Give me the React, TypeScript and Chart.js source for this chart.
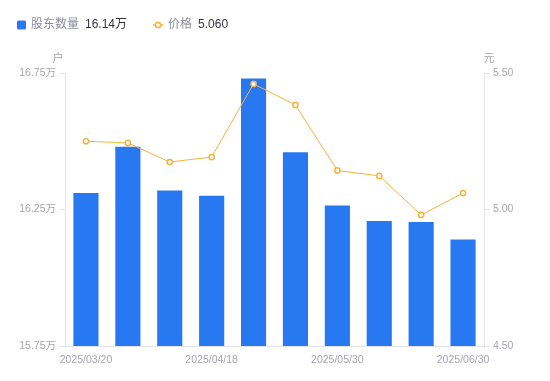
import React, { useEffect, useRef } from "react";
import { Chart, registerables } from "chart.js";

Chart.register(...registerables);

const dates = [
  "2025/03/20",
  "2025/03/31",
  "2025/04/10",
  "2025/04/18",
  "2025/04/30",
  "2025/05/20",
  "2025/05/30",
  "2025/06/10",
  "2025/06/20",
  "2025/06/30",
];
const holders = [16.31, 16.48, 16.32, 16.3, 16.73, 16.46, 16.265, 16.208, 16.204, 16.14];
const prices = [5.25, 5.244, 5.174, 5.192, 5.46, 5.383, 5.143, 5.123, 4.98, 5.06];
const shownTickIdx = [0, 3, 6, 9];
const holderName = "股东数量";
const priceName = "价格";
const holderUnit = "户";
const priceUnit = "元";

const BLUE = "#2878F2";
const ORANGE = "#F8B23C";
const AXIS = "#E3E3E8";
const TICK_TXT = "#A4A4B4";
const FONT = "'Liberation Sans','Noto Sans CJK SC',sans-serif";

const overlay = {
  id: "overlay",
  afterDraw(chart: any) {
    const ctx = chart.ctx;
    const ca = chart.chartArea;
    ctx.save();
    // legend
    ctx.textBaseline = "middle";
    ctx.font = `12px ${FONT}`;
    const ly = 25;
    ctx.fillStyle = BLUE;
    ctx.beginPath();
    (ctx as any).roundRect ? (ctx as any).roundRect(17, 20.5, 9, 9, 1.5) : ctx.rect(17, 20.5, 9, 9);
    ctx.fill();
    ctx.textAlign = "left";
    ctx.fillStyle = "#8C8C9C";
    ctx.fillText(holderName, 31, ly);
    let x = 31 + ctx.measureText(holderName).width + 6;
    ctx.fillStyle = "#333340";
    const hv = holders[holders.length - 1].toFixed(2) + "万";
    ctx.fillText(hv, x, ly);
    x += ctx.measureText(hv).width + 26;
    // price icon
    ctx.strokeStyle = ORANGE;
    ctx.lineWidth = 1.5;
    ctx.beginPath();
    ctx.moveTo(x, ly);
    ctx.lineTo(x + 10, ly);
    ctx.stroke();
    ctx.fillStyle = "#fff";
    ctx.beginPath();
    ctx.arc(x + 5, ly, 2.6, 0, Math.PI * 2);
    ctx.fill();
    ctx.stroke();
    x += 15;
    ctx.fillStyle = "#8C8C9C";
    ctx.fillText(priceName, x, ly);
    x += ctx.measureText(priceName).width + 6;
    ctx.fillStyle = "#333340";
    ctx.fillText(prices[prices.length - 1].toFixed(3), x, ly);
    // axis unit titles
    ctx.fillStyle = TICK_TXT;
    ctx.font = `11px ${FONT}`;
    ctx.textAlign = "center";
    ctx.fillText(holderUnit, ca.left - 7, ca.top - 14);
    ctx.fillText(priceUnit, ca.right + 5, ca.top - 14);
    ctx.restore();
  },
};

export default function App() {
  const ref = useRef<HTMLCanvasElement>(null);
  useEffect(() => {
    if (!ref.current) return;
    const chart = new Chart(ref.current, {
      type: "bar",
      data: {
        labels: dates,
        datasets: [
          {
            type: "line" as any,
            label: priceName,
            data: prices,
            yAxisID: "y1",
            borderColor: ORANGE,
            borderWidth: 1,
            pointRadius: 2.6,
            pointBorderWidth: 1.5,
            pointBackgroundColor: "#fff",
            pointBorderColor: ORANGE,
            tension: 0,
            order: 0,
          },
          {
            type: "bar",
            label: holderName,
            data: holders,
            yAxisID: "y",
            backgroundColor: BLUE,
            categoryPercentage: 1,
            barPercentage: 0.6,
            order: 1,
          },
        ],
      },
      options: {
        responsive: false,
        animation: false,
        layout: { padding: { top: 73, left: 0, right: 0, bottom: 0 } },
        plugins: { legend: { display: false }, tooltip: { enabled: false } },
        scales: {
          x: {
            offset: true,
            grid: { display: false },
            border: { display: true, color: AXIS },
            ticks: {
              autoSkip: false,
              maxRotation: 0,
              padding: 0,
              color: TICK_TXT,
              font: { family: FONT, size: 10.5 },
              callback: (_v: any, i: number) => (shownTickIdx.includes(i) ? dates[i] : ""),
            },
            afterFit: (s: any) => {
              s.height = 35;
            },
          },
          y: {
            position: "left",
            min: 15.75,
            max: 16.75,
            grid: { drawOnChartArea: false, drawTicks: true, tickLength: 6, color: AXIS },
            border: { display: true, color: AXIS },
            ticks: {
              stepSize: 0.5,
              padding: 3,
              color: TICK_TXT,
              font: { family: FONT, size: 10.5 },
              callback: (v: any) => Number(v).toFixed(2) + "万",
            },
            afterFit: (s: any) => {
              s.width = 65;
            },
          },
          y1: {
            position: "right",
            min: 4.5,
            max: 5.5,
            grid: { drawOnChartArea: false, drawTicks: true, tickLength: 6, color: AXIS },
            border: { display: true, color: AXIS },
            ticks: {
              stepSize: 0.5,
              padding: 3,
              color: TICK_TXT,
              font: { family: FONT, size: 10.5 },
              callback: (v: any) => Number(v).toFixed(2),
            },
            afterFit: (s: any) => {
              s.width = 66;
            },
          },
        },
      },
      plugins: [overlay],
    });
    return () => chart.destroy();
  }, []);
  return (
    <div style={{ position: "absolute", left: 0, top: 0, width: 550, height: 381, background: "#fff" }}>
      <canvas ref={ref} width={550} height={381} />
    </div>
  );
}
